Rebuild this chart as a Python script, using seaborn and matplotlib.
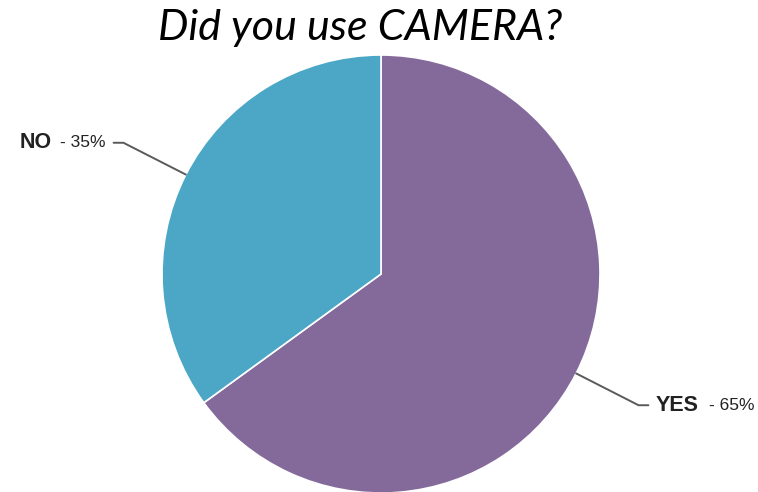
import matplotlib
matplotlib.use('Agg')
import numpy as np
import matplotlib.pyplot as plt
import seaborn as sns

# Survey answers
answers = ['YES', 'NO']
shares = [65, 35]
colors = ['#836A9B', '#4BA7C5']

sns.set_style('white')
plt.rcParams['font.family'] = ['Liberation Sans', 'DejaVu Sans']

fig = plt.figure(figsize=(7.58, 4.92), dpi=100)
ax = fig.add_axes([0, 0, 1, 1])

wedges, _ = ax.pie(shares, colors=colors, startangle=90, counterclock=False,
                   wedgeprops=dict(edgecolor='white', linewidth=1.2))

# leader lines and labels
for w, name, val in zip(wedges, answers, shares):
    mid = np.deg2rad((w.theta1 + w.theta2) / 2)
    x0, y0 = np.cos(mid), np.sin(mid)
    x1, y1 = 1.32 * x0, 1.32 * y0
    side = 1 if x0 > 0 else -1
    x2 = x1 + side * 0.045
    ax.plot([x0, x1, x2], [y0, y1, y1], color='#5a5a5a', lw=1.4, clip_on=False)
    tx = x2 + side * 0.035
    if side > 0:
        t = ax.text(tx, y1, name, ha='left', va='center', fontsize=15.5,
                    fontweight='bold', color='#222222')
        ax.annotate('- %d%%' % val, xy=(1, 0.5), xycoords=t, xytext=(7, 0),
                    textcoords='offset points', ha='left', va='center',
                    fontsize=12.5, color='#222222')
    else:
        t = ax.text(tx, y1, '- %d%%' % val, ha='right', va='center', fontsize=12.5,
                    color='#222222')
        ax.annotate('NO', xy=(0, 0.5), xycoords=t, xytext=(-6, 0),
                    textcoords='offset points', ha='right', va='center',
                    fontsize=15.5, fontweight='bold', color='#222222')

ax.set_xlim(-381 / 219, 377 / 219)
ax.set_ylim(-218 / 219, 274 / 219)
ax.set_aspect('auto')
ax.axis('off')

fig.text(360 / 758, 1 - 28 / 492, 'Did you use CAMERA?', ha='center', va='center',
         fontsize=31, fontstyle='italic', family=['Lato', 'DejaVu Sans'],
         color='black')

fig.savefig('out.png', dpi=100)
